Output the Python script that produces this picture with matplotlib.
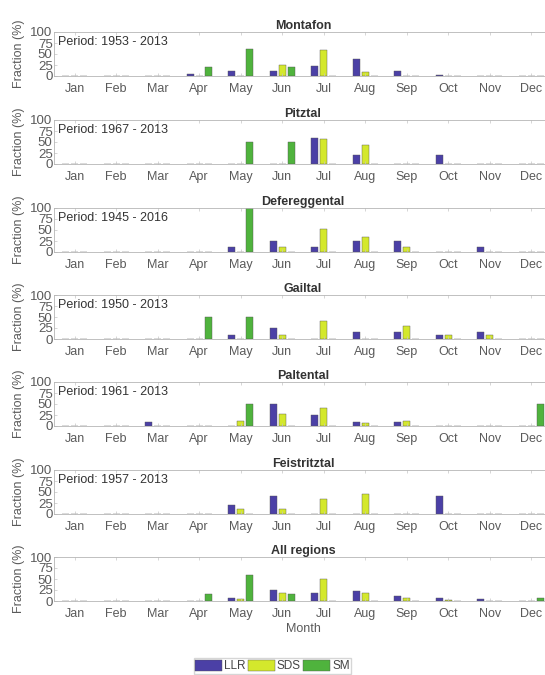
import numpy as np
import matplotlib.pyplot as plt
from matplotlib.patches import Patch

months = ['Jan', 'Feb', 'Mar', 'Apr', 'May', 'Jun',
          'Jul', 'Aug', 'Sep', 'Oct', 'Nov', 'Dec']

regions = ['Montafon', 'Pitztal', 'Defereggental', 'Gailtal',
           'Paltental', 'Feistritztal', 'All regions']
periods = ['1953 - 2013', '1967 - 2013', '1945 - 2016', '1950 - 2013',
           '1961 - 2013', '1957 - 2013', None]

# fraction (%) of events per month, one list per region
llr_montafon = [0, 0, 0, 5, 11, 11, 22, 39, 12, 2, 0, 0]
sds_montafon = [0, 0, 0, 1, 1, 25, 58, 10, 0, 0, 0, 0]
sm_montafon = [0, 0, 0, 21, 61, 20, 0, 0, 0, 0, 0, 0]

llr_pitztal = [0, 0, 0, 0, 0, 0, 60, 20, 0, 20, 0, 0]
sds_pitztal = [0, 0, 0, 0, 0, 0, 57, 43, 0, 0, 0, 0]
sm_pitztal = [0, 0, 0, 0, 50, 50, 0, 0, 0, 0, 0, 0]

llr_defereggental = [0, 0, 0, 0, 12, 25, 12, 25, 25, 0, 12, 0]
sds_defereggental = [0, 0, 0, 0, 0, 11, 52, 35, 11, 0, 0, 0]
sm_defereggental = [0, 0, 0, 0, 100, 0, 0, 0, 0, 0, 0, 0]

llr_gailtal = [0, 0, 0, 0, 8, 25, 0, 17, 17, 8, 17, 0]
sds_gailtal = [0, 0, 0, 0, 0, 9, 40, 0, 30, 9, 9, 0]
sm_gailtal = [0, 0, 0, 50, 50, 0, 0, 0, 0, 0, 0, 0]

llr_paltental = [0, 0, 8, 0, 0, 50, 25, 8, 8, 0, 0, 0]
sds_paltental = [0, 0, 0, 0, 12, 28, 42, 7, 12, 0, 0, 0]
sm_paltental = [0, 0, 0, 0, 50, 0, 0, 0, 0, 0, 0, 50]

llr_feistritztal = [0, 0, 0, 0, 20, 40, 0, 0, 0, 40, 0, 0]
sds_feistritztal = [0, 0, 0, 0, 11, 11, 33, 45, 0, 0, 0, 0]
sm_feistritztal = [0, 0, 0, 0, 0, 0, 0, 0, 0, 0, 0, 0]

llr_all = [0, 0, 1, 1, 7, 25, 18, 22, 11, 6, 5, 0]
sds_all = [0, 0, 0, 1, 4, 18, 49, 18, 7, 2, 1, 0]
sm_all = [0, 0, 0, 16, 60, 17, 0, 0, 0, 0, 0, 7]

llr = [llr_montafon, llr_pitztal, llr_defereggental, llr_gailtal,
       llr_paltental, llr_feistritztal, llr_all]
sds = [sds_montafon, sds_pitztal, sds_defereggental, sds_gailtal,
       sds_paltental, sds_feistritztal, sds_all]
sm = [sm_montafon, sm_pitztal, sm_defereggental, sm_gailtal,
      sm_paltental, sm_feistritztal, sm_all]

series = ['LLR', 'SDS', 'SM']
colors = ['#4b40a6', '#d4e82c', '#4fb33d']

plt.rcParams['font.family'] = ['Liberation Sans', 'DejaVu Sans']

W, H = 545, 675
fig = plt.figure(figsize=(W / 100, H / 100), dpi=100)

# pixel rows of the 0-line of each panel
bottoms_px = [76, 164, 252, 339, 426, 514, 601]
ax_h = 44
left_px = 54
ax_w = 498

x = np.arange(1, 13)
offs = [-0.22, 0, 0.22]
bw = 0.17

for i, name in enumerate(regions):
    ax = fig.add_axes([left_px / W, (H - bottoms_px[i]) / H, ax_w / W, ax_h / H])
    for k, vals in enumerate([llr[i], sds[i], sm[i]]):
        ax.bar(x + offs[k], vals, width=bw, color=colors[k],
               edgecolor='#555555', linewidth=0.3)
    ax.set_xlim(0.5, 12.5)
    ax.set_ylim(0, 100)
    ax.set_yticks([0, 25, 50, 75, 100])
    ax.set_xticks(x)
    ax.set_xticklabels(months)
    ax.tick_params(direction='in', length=2, width=0.5, colors='#c5c5c5',
                   labelcolor='#5a5a5a', labelsize=9, top=True, right=True)
    ax.tick_params(axis='y', pad=1, labelsize=9.5)
    ax.tick_params(axis='x', pad=5)
    for s in ax.spines.values():
        s.set_color('#b5b5b5')
        s.set_linewidth(0.6)
    ax.set_title(name, fontsize=9, fontweight='bold', color='#333333', pad=2)
    ax.set_ylabel('Fraction (%)', fontsize=9, color='#5a5a5a', labelpad=4)
    if periods[i]:
        ax.text(0.008, 0.9, 'Period: ' + periods[i], transform=ax.transAxes,
                fontsize=9, color='#333333', va='top', ha='left')
    if i == len(regions) - 1:
        ax.set_xlabel('Month', fontsize=9, color='#5a5a5a', labelpad=2)

handles = [Patch(facecolor=c, edgecolor='#555555', linewidth=0.3) for c in colors]
fig.legend(handles, series, loc='center', bbox_to_anchor=(0.5, (H - 666) / H),
           ncol=3, fontsize=8.5, frameon=True, edgecolor='#cccccc', fancybox=False,
           handlelength=2.3, handleheight=1.1, handletextpad=0.15,
           columnspacing=0.2, borderpad=0.12, labelcolor='#444444')

fig.savefig('out.png', dpi=100, facecolor='white')
